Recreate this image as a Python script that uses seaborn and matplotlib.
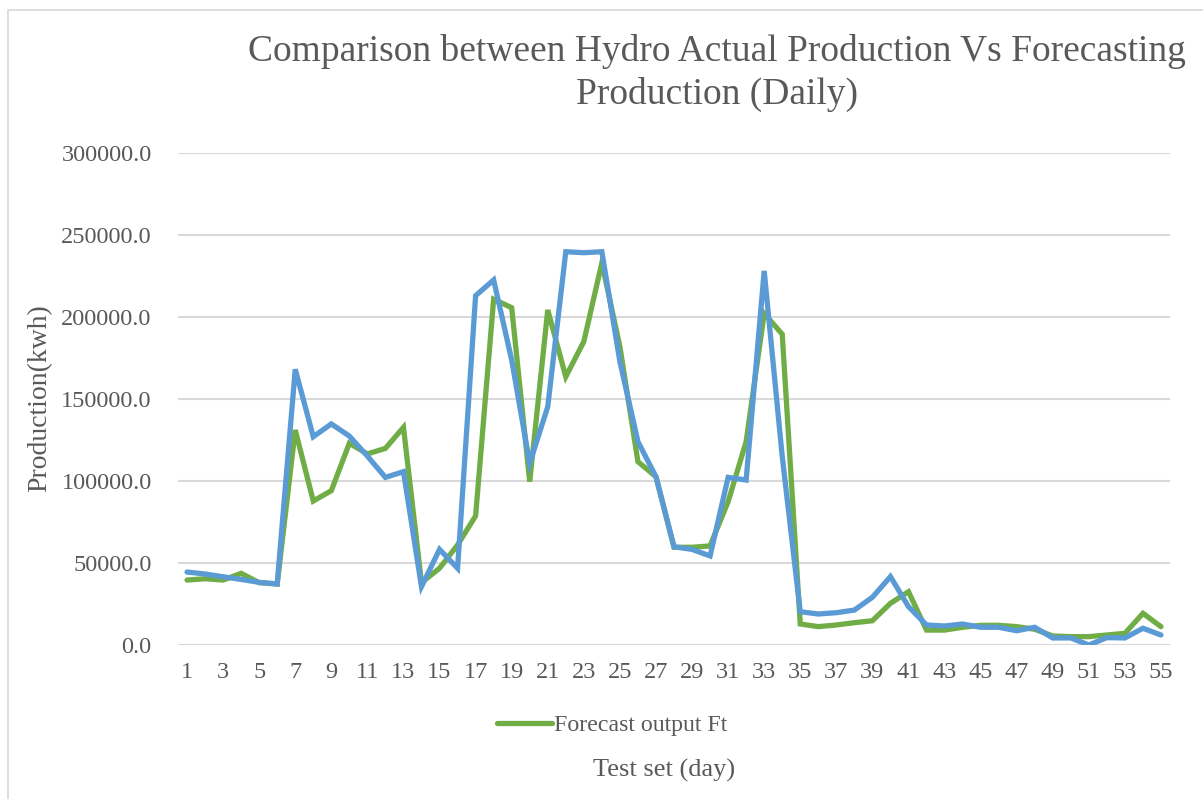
import matplotlib
matplotlib.use("Agg")
import matplotlib.pyplot as plt
import seaborn as sns
import pandas as pd
import numpy as np
from matplotlib.patches import Rectangle

days = list(range(1, 56))
forecast = [39600, 40400, 39600, 43700, 38000, 37200, 131100, 87800, 94100, 123000,
            116500, 119900, 132700, 38000, 46800, 61000, 78700, 210800, 205700, 99600,
            204300, 163600, 185000, 233000, 181900, 111800, 102600, 59600, 59600, 60400,
            87400, 124000, 202200, 189500, 12800, 11200, 12200, 13600, 14800, 25400,
            32500, 9100, 9100, 10800, 12000, 12000, 11200, 9600, 5500, 5100,
            5100, 6100, 7100, 19300, 11200]
actual = [44500, 43300, 41600, 40000, 38200, 37200, 168100, 127000, 134800, 127400,
          115200, 102200, 105700, 35600, 58300, 46800, 213000, 222600, 173800, 110800,
          145300, 239800, 239200, 239800, 172800, 124000, 102600, 59900, 58300, 54300,
          102200, 100600, 228100, 115000, 20300, 18900, 19700, 21300, 29100, 41700,
          23400, 12200, 11600, 12800, 10800, 10800, 8700, 10800, 4300, 4300,
          0, 4500, 4300, 10200, 6100]
xtick_labels = [str(d) for d in days[::2]]
yticks = [0, 50000, 100000, 150000, 200000, 250000, 300000]

sns.set_theme(style="white")
plt.rcParams['font.family'] = ['Liberation Serif', 'DejaVu Serif']

W, H = 1203, 799
fig = plt.figure(figsize=(W/100, H/100), dpi=100)
ax = fig.add_axes([178/W, 1-645/H, (1170-178)/W, (645-153)/H])

df = pd.DataFrame({"day": days, "forecast": forecast, "actual": actual})
sns.lineplot(data=df, x="day", y="forecast", ax=ax, color="#70AD47", lw=3.8,
             label="Forecast output Ft", solid_capstyle="round", solid_joinstyle="miter")
sns.lineplot(data=df, x="day", y="actual", ax=ax, color="#5B9BD5", lw=3.8,
             label="_nolegend_", solid_capstyle="round", solid_joinstyle="miter")

ax.set_xlim(0.5, 55.5)
ax.set_ylim(0, 300000)
ax.set_yticks(yticks)
ax.set_yticklabels([f"{v:.1f}" for v in yticks])
ax.set_xticks(days[::2])
ax.set_xticklabels(xtick_labels)
ax.tick_params(axis='both', length=0, labelsize=17.5, colors="#595959")
ax.tick_params(axis='x', pad=12)
ax.tick_params(axis='y', pad=19)
ax.grid(axis='y', color="#D9D9D9", lw=1.5)
ax.set_axisbelow(True)
for s in ax.spines.values():
    s.set_visible(False)

ax.set_xlabel("")
ax.set_ylabel("")
fig.text(40/W, 1-398/H, "Production(kwh)", rotation=90, ha='center', va='center',
         fontsize=20, color="#595959")
fig.text(664/W, 1-770/H, "Test set (day)", ha='center', va='center',
         fontsize=19, color="#595959")
fig.text(717/W, 1-73/H, "Comparison between Hydro Actual Production Vs Forecasting\nProduction (Daily)",
         ha='center', va='center', fontsize=27, color="#595959", linespacing=1.3)

leg = ax.legend(loc='center', bbox_to_anchor=(612/W, 1-725/H), bbox_transform=fig.transFigure,
                frameon=False, fontsize=17.2, handlelength=2.3, handletextpad=0.1)
for t in leg.get_texts():
    t.set_color("#595959")

fig.patches.append(Rectangle((8/W, -0.1), 1.2, 1-10/H+0.1, transform=fig.transFigure,
                             fill=False, edgecolor="#D9D9D9", lw=1.2))

fig.savefig("out.png", dpi=100)
